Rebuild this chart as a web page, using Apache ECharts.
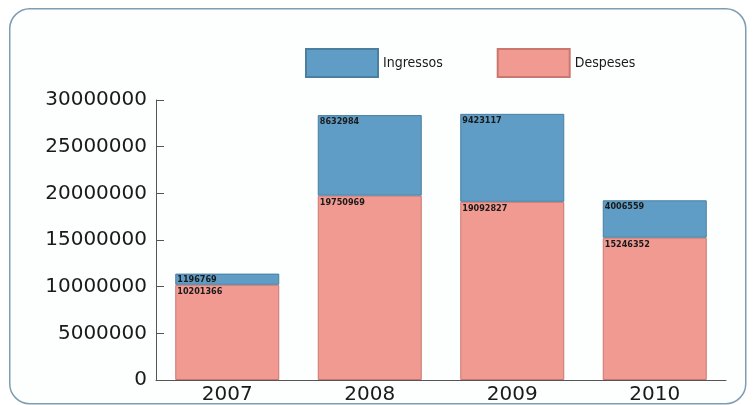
<!DOCTYPE html>
<html><head><meta charset="utf-8">
<script src="https://cdn.jsdelivr.net/npm/echarts@6/dist/echarts.min.js"></script>
<style>html,body{margin:0;padding:0;background:#fff}#c{width:753px;height:405px}</style>
</head><body><div id="c"></div>
<script>
const categories = ['2007', '2008', '2009', '2010'];
const despeses = [10201366, 19750969, 19092827, 15246352];
const ingressos = [1196769, 8632984, 9423117, 4006559];
const yTicks = [0, 5000000, 10000000, 15000000, 20000000, 25000000, 30000000];

const chart = echarts.init(document.getElementById('c'));
const lbl = {
  show: true, position: 'insideTopLeft', distance: 2, offset: [0, 0],
  fontSize: 9, fontWeight: 'bold', fontFamily: 'DejaVu Sans Condensed', color: '#1a1a1a',
  formatter: p => String(p.value)
};
chart.setOption({
  animation: false,
  backgroundColor: '#ffffff',
  graphic: [{
    type: 'rect', left: 9, top: 8, z: -1,
    shape: { width: 736, height: 395, r: 20 },
    style: { fill: '#fdfefe', stroke: '#7f9db2', lineWidth: 1.5 }
  }],
  legend: {
    top: 43, left: 300, itemGap: 54, itemWidth: 72, itemHeight: 28,
    icon: 'rect',
    textStyle: { fontFamily: 'DejaVu Sans Condensed', fontSize: 14, color: '#1a1a1a' },
    data: ['Ingressos', 'Despeses']
  },
  grid: { left: 156, right: 27, top: 100, bottom: 22, containLabel: false },
  xAxis: {
    type: 'category', data: categories,
    axisLine: { lineStyle: { color: '#555', width: 1 } },
    axisTick: { show: false },
    axisLabel: { fontFamily: 'DejaVu Sans', fontSize: 20, color: '#1a1a1a', margin: 5 }
  },
  yAxis: {
    type: 'value', min: yTicks[0], max: yTicks[yTicks.length - 1], interval: 5000000,
    axisLine: { show: true, lineStyle: { color: '#555' } },
    axisTick: { show: true, inside: true, length: 8, lineStyle: { color: '#555' } },
    splitLine: { show: false },
    axisLabel: { fontFamily: 'DejaVu Sans', fontSize: 20, color: '#1a1a1a', margin: 9,
      formatter: v => String(v) }
  },
  series: [
    {
      name: 'Despeses', type: 'bar', stack: 't', data: despeses, barWidth: 104,
      itemStyle: { color: '#f19a92', borderColor: '#c9776f', borderWidth: 1 },
      label: lbl
    },
    {
      name: 'Ingressos', type: 'bar', stack: 't', data: ingressos, barWidth: 104,
      itemStyle: { color: '#5f9dc6', borderColor: '#4a7f9f', borderWidth: 1 },
      label: lbl
    }
  ]
});
</script></body></html>
